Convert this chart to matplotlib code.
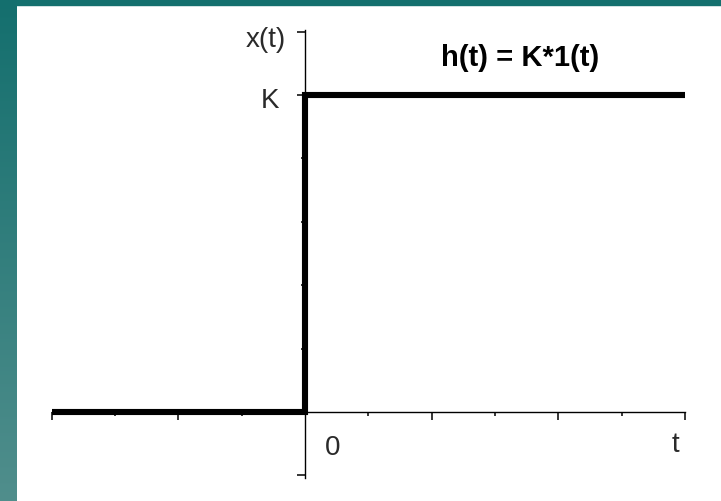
import numpy as np
import matplotlib
matplotlib.use("Agg")
import matplotlib.pyplot as plt
from matplotlib.patches import Rectangle

# step response data
t = [-4, 0, 0, 6]
x = [0, 0, 5, 5]
x_major = [-4, -2, 2, 4, 6]
x_minor = [-3, -1, 1, 3, 5]
y_major = [-1, 5, 6]
y_minor = [1, 2, 3, 4]
title = "h(t) = K*1(t)"

W, H = 721, 501
fig = plt.figure(figsize=(W / 100, H / 100), dpi=100)
fig.patch.set_facecolor("white")

# teal slide border: gradient on the left, flat strip on top
bg = fig.add_axes([0, 0, 17 / W, 1])
grad = np.linspace(0, 1, 256).reshape(-1, 1)
cmap = matplotlib.colors.LinearSegmentedColormap.from_list("teal", ["#146f6e", "#508e8c"])
bg.imshow(grad, aspect="auto", cmap=cmap, extent=[0, 1, 0, 1], origin="upper")
bg.axis("off")
fig.patches.append(Rectangle((0, 1 - 5 / H), 1, 5 / H, transform=fig.transFigure,
                             color="#14706e", zorder=-1))

# main axes: 1 unit ~ 63.3 px, origin at pixel (305, 412)
ux, uy = 63.3, 63.4
x0, y0 = 305, 412
xlim = (-4.5, 6.5)
ylim = (-1.2, 6.2)
left = (x0 + xlim[0] * ux) / W
right = (x0 + xlim[1] * ux) / W
bottom = (H - (y0 - ylim[0] * uy)) / H
top = (H - (y0 - ylim[1] * uy)) / H
ax = fig.add_axes([left, bottom, right - left, top - bottom])
ax.set_xlim(*xlim)
ax.set_ylim(*ylim)
ax.patch.set_alpha(0)

ax.plot(t, x, color="black", lw=4.4, solid_joinstyle="miter", solid_capstyle="butt",
        zorder=3)

for s in ["top", "right"]:
    ax.spines[s].set_visible(False)
ax.spines["left"].set_position(("data", 0))
ax.spines["bottom"].set_position(("data", 0))
ax.spines["left"].set_bounds(-1.04, 6.03)
ax.spines["bottom"].set_bounds(-4, 6)
for s in ["left", "bottom"]:
    ax.spines[s].set_linewidth(1.0)

ax.set_xticks(x_major)
ax.set_xticks(x_minor, minor=True)
ax.set_yticks(y_major)
ax.set_yticks(y_minor, minor=True)
ax.set_xticklabels([])
ax.set_yticklabels([])
ax.tick_params(which="major", direction="out", length=5.5, width=1.1)
ax.tick_params(which="minor", direction="out", length=3, width=1.1)

lab = dict(family=["Liberation Sans", "DejaVu Sans"], fontsize=20,
           color="#2a2a2a", ha="center", va="center")
ax.text(-0.62, 5.87, "x(t)", **lab)
ax.text(-0.55, 4.9, "K", **lab)
ax.text(0.43, -0.57, "0", **lab)
ax.text(5.85, -0.52, "t", **lab)
ax.text(3.4, 5.58, title, family=["Liberation Sans", "DejaVu Sans"], fontweight="bold",
        fontsize=21, color="black", ha="center", va="center")

fig.savefig("out.png", dpi=100)
